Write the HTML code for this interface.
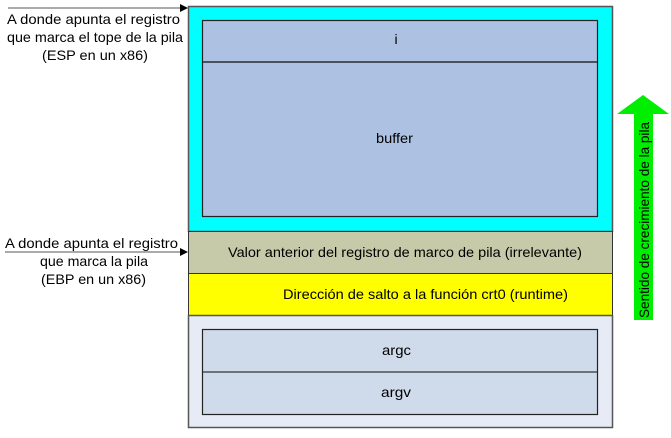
<!DOCTYPE html>
<html><head><meta charset="utf-8"><style>
html,body{margin:0;padding:0;background:#fff;width:671px;height:438px;overflow:hidden}
svg text{font-family:"Liberation Sans",sans-serif;font-size:14px;fill:#000}
</style></head><body>
<svg width="671" height="438" viewBox="0 0 671 438" xmlns="http://www.w3.org/2000/svg">
<rect x="188.5" y="6.5" width="424" height="225" fill="#00ffff" stroke="#555" stroke-width="1.5"/>
<rect x="188.5" y="231.5" width="424" height="42" fill="#c6caa9" stroke="#333" stroke-width="1"/>
<rect x="188.5" y="273.5" width="424" height="42" fill="#ffff00" stroke="#333" stroke-width="1"/>
<rect x="188.5" y="315.5" width="424" height="112" fill="#e6ebf5" stroke="#555" stroke-width="1.5"/>
<rect x="202.5" y="20.5" width="395" height="196" fill="#adc1e2" stroke="#222" stroke-width="1.2"/>
<line x1="202.5" y1="62" x2="597.5" y2="62" stroke="#111" stroke-width="1.2"/>
<rect x="202.5" y="329.5" width="395" height="85" fill="#cfdaeb" stroke="#222" stroke-width="1.2"/>
<line x1="202.5" y1="372" x2="597.5" y2="372" stroke="#333" stroke-width="1.2"/>
<text x="396" y="44" text-anchor="middle">i</text>
<text x="376" y="143" textLength="37" lengthAdjust="spacingAndGlyphs">buffer</text>
<text x="228" y="257" textLength="354" lengthAdjust="spacingAndGlyphs">Valor anterior del registro de marco de pila (irrelevante)</text>
<text x="283" y="299" textLength="285" lengthAdjust="spacingAndGlyphs">Dirección de salto a la función crt0 (runtime)</text>
<text x="382" y="355" textLength="29" lengthAdjust="spacingAndGlyphs">argc</text>
<text x="381" y="397" textLength="30" lengthAdjust="spacingAndGlyphs">argv</text>
<line x1="8" y1="8" x2="182" y2="8" stroke="#555" stroke-width="1"/>
<polygon points="188,8 180,4 180,12" fill="#000"/>
<text x="7" y="24" textLength="173" lengthAdjust="spacingAndGlyphs">A donde apunta el registro</text>
<text x="7" y="42" textLength="176" lengthAdjust="spacingAndGlyphs">que marca el tope de la pila</text>
<text x="42" y="60" textLength="106" lengthAdjust="spacingAndGlyphs">(ESP en un x86)</text>
<line x1="5" y1="252" x2="182" y2="252" stroke="#555" stroke-width="1"/>
<polygon points="188,252 180,248 180,256" fill="#000"/>
<text x="5" y="248" textLength="173" lengthAdjust="spacingAndGlyphs">A donde apunta el registro</text>
<text x="40" y="266" textLength="108" lengthAdjust="spacingAndGlyphs">que marca la pila</text>
<text x="41" y="284" textLength="105" lengthAdjust="spacingAndGlyphs">(EBP en un x86)</text>
<polygon points="643,95 669,114 653,114 653,320 634,320 634,114 617,114" fill="#00ee00"/>
<text transform="translate(649,318) rotate(-90)" x="0" y="0" textLength="196" lengthAdjust="spacingAndGlyphs">Sentido de crecimiento de la pila</text>
</svg>
</body></html>
